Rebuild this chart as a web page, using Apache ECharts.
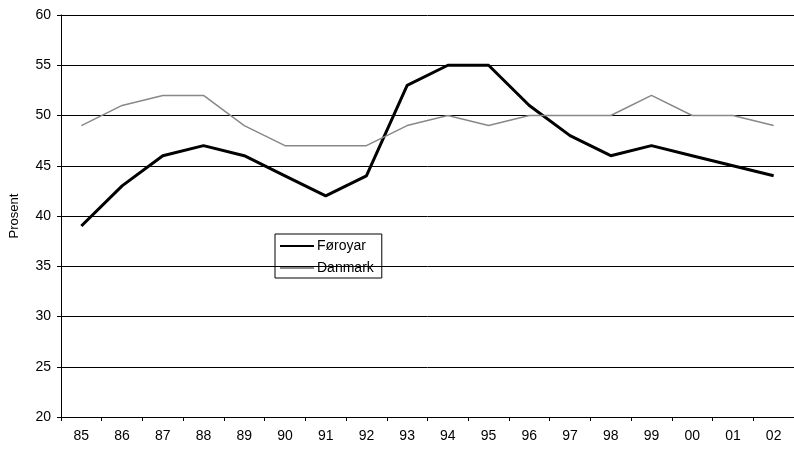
<!DOCTYPE html>
<html><head><meta charset="utf-8">
<script src="https://cdn.jsdelivr.net/npm/echarts@6/dist/echarts.min.js"></script>
<style>html,body{margin:0;padding:0;background:#fff}#c{width:794px;height:449px}</style>
</head><body><div id="c"></div>
<script>
const categories = ['85','86','87','88','89','90','91','92','93','94','95','96','97','98','99','00','01','02'];
const foroyar = [39,43,46,47,46,44,42,44,53,55,55,51,48,46,47,46,45,44];
const danmark = [49,51,52,52,49,47,47,47,49,50,49,50,50,50,52,50,50,49];
const chart = echarts.init(document.getElementById('c'));
const font = 'Liberation Sans, Arial, sans-serif';
chart.setOption({
  animation:false,
  grid:{left:58,right:-6,top:15,bottom:32},
  legend:{
    orient:'vertical', left:275, top:234,
    borderColor:'#000', borderWidth:1, padding:[5,8,3,4],
    itemWidth:34, itemHeight:14, itemGap:8,
    itemStyle:{opacity:0},
    textStyle:{fontFamily:font,fontSize:14,color:'#000',padding:[0,0,0,-2]},
    data:[{name:'Føroyar'},{name:'Danmark'}]
  },
  xAxis:{
    type:'category', data:categories, boundaryGap:true,
    axisLine:{lineStyle:{color:'#000',width:1}},
    axisTick:{show:true,length:4,lineStyle:{color:'#000'}},
    axisLabel:{fontFamily:font,fontSize:14,color:'#000',margin:12}
  },
  yAxis:{
    type:'value', min:20, max:60, interval:5,
    name:'Prosent', nameLocation:'middle', nameGap:40,
    nameTextStyle:{fontFamily:font,fontSize:13,color:'#000'},
    axisLine:{show:true,lineStyle:{color:'#000',width:1}},
    axisTick:{show:true,length:4,lineStyle:{color:'#000'}},
    axisLabel:{fontFamily:font,fontSize:14,color:'#000',margin:10},
    splitLine:{lineStyle:{color:'#000',width:1}}
  },
  series:[
    {name:'Føroyar',type:'line',data:foroyar,symbol:'none',lineStyle:{color:'#000',width:3},itemStyle:{color:'#000'}},
    {name:'Danmark',type:'line',data:danmark,symbol:'none',lineStyle:{color:'#888',width:1.5},itemStyle:{color:'#888'}}
  ]
});
</script></body></html>
